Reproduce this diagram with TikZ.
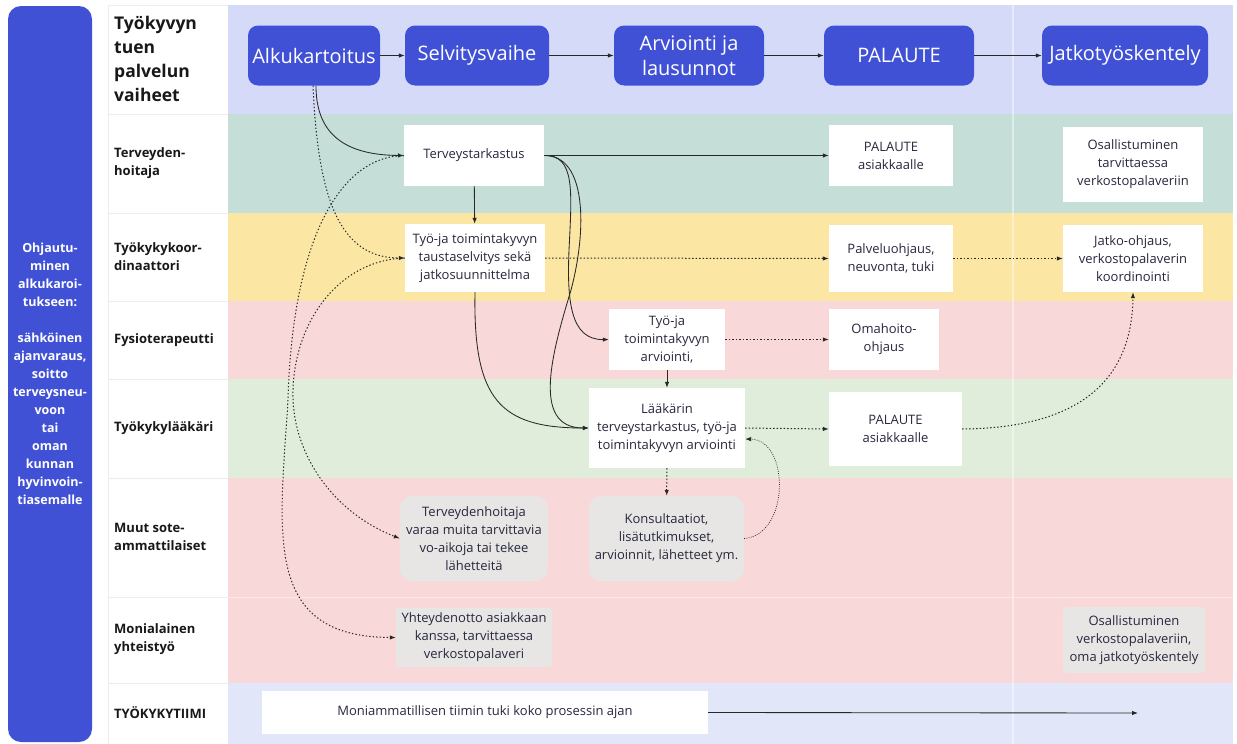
\documentclass[tikz,border=0pt]{standalone}
\usepackage{fontspec}
\setmainfont{Open Sans}
\usetikzlibrary{arrows.meta,calc}
\definecolor{pblue}{RGB}{64,81,214}
\definecolor{hdrbg}{RGB}{214,218,249}
\definecolor{tealbg}{RGB}{197,223,216}
\definecolor{yelbg}{RGB}{251,230,163}
\definecolor{pinkbg}{RGB}{249,216,218}
\definecolor{grnbg}{RGB}{224,237,219}
\definecolor{bluebg}{RGB}{225,231,248}
\definecolor{boxgray}{RGB}{231,230,229}
\definecolor{ink}{RGB}{40,40,62}
\definecolor{laneink}{RGB}{24,24,24}
\definecolor{linec}{RGB}{40,40,40}
\definecolor{sepgray}{RGB}{236,236,236}
\tikzset{
  phase/.style={fill=pblue, rounded corners=10pt, text=white, align=center,
    font=\fontsize{20}{25}\selectfont, minimum height=60pt, inner sep=0pt},
  wbox/.style={fill=white, text=ink, align=center, inner sep=0pt,
    font=\fontsize{13}{18}\selectfont},
  gbox/.style={wbox, fill=boxgray, rounded corners=12pt},
  sbox/.style={wbox, fill=boxgray, rounded corners=3pt},
  lane/.style={anchor=west, align=left, text=laneink, inner sep=0pt,
    font=\bfseries\fontsize{13}{18}\selectfont},
  conn/.style={-{Latex[length=6pt,width=4.5pt]}, line width=0.85pt, draw=linec},
  dconn/.style={conn, line width=1pt, dash pattern=on 1.4pt off 2.1pt},
  fconn/.style={conn, line width=0.7pt, dash pattern=on 0.9pt off 1.3pt},
}
\begin{document}
\begin{tikzpicture}[x=1pt,y=-1pt]
\useasboundingbox (0,0) rectangle (1237,744);
\fill[white] (0,0) rectangle (1237,744);

% side bar
\fill[pblue, rounded corners=13pt] (8,6) rectangle (92,742);
\node[text=white, align=center, inner sep=0pt, font=\bfseries\fontsize{12.5}{18}\selectfont] (sidetext) at (50,374)
  {Ohjautu-\\minen\\alkukaroi-\\tukseen:\\[18pt]sähköinen\\ajanvaraus,\\soitto\\terveysneu-\\voon\\tai\\oman\\kunnan\\hyvinvoin-\\tiasemalle};

% swim lanes
\fill[hdrbg]  (228,5)   rectangle (1233,114);
\fill[tealbg] (228,114) rectangle (1233,213);
\fill[yelbg]  (228,213) rectangle (1233,301);
\fill[pinkbg] (228,301) rectangle (1233,379);
\fill[grnbg]  (228,379) rectangle (1233,478);
\fill[pinkbg] (228,478) rectangle (1233,683);
\fill[bluebg] (228,683) rectangle (1233,744);
\draw[white, opacity=0.45, line width=1pt] (228,597.5) -- (1233,597.5);
\draw[white, opacity=0.45, line width=1.2pt] (1013,5) -- (1013,744);

% lane label column
\draw[sepgray, line width=0.8pt] (108,5) -- (228,5);
\foreach \yy in {114,213,301,379,478,597,683}
  \draw[sepgray, line width=0.8pt] (108,\yy) -- (228,\yy);
\draw[sepgray, line width=0.8pt] (108,5) -- (108,744);

\node[lane, font=\bfseries\fontsize{17.5}{24}\selectfont] (lhead) at (114,59) {Työkyvyn\\tuen\\palvelun\\vaiheet};
\node[lane] (lth)   at (114,163.5) {Terveyden-\\hoitaja};
\node[lane] (lkoor) at (114,257) {Työkykykoor-\\dinaattori};
\node[lane] (lfys)  at (114,340) {Fysioterapeutti};
\node[lane] (llaak) at (114,428) {Työkykylääkäri};
\node[lane] (lmuut) at (114,537) {Muut sote-\\ammattilaiset};
\node[lane] (lmoni) at (114,639) {Monialainen\\yhteistyö};
\node[lane] (ltiimi) at (114,713) {TYÖKYKYTIIMI};

% phases
\node[phase, minimum width=132pt] (alku)  at (314,55.5)  {Alkukartoitus};
\node[phase, minimum width=144pt] (selv)  at (477,55.5)  {Selvitysvaihe};
\node[phase, minimum width=150pt] (arvi)  at (689,55.5)  {Arviointi ja\\lausunnot};
\node[phase, minimum width=150pt] (pal)   at (899,55.5)  {PALAUTE};
\node[phase, minimum width=166pt] (jatko) at (1125,55.5) {Jatkotyöskentely};

% tasks
\node[wbox, minimum width=140pt, minimum height=61pt] (tt)     at (474,155.5) {Terveystarkastus};
\node[wbox, minimum width=140pt, minimum height=68pt] (tausta) at (475,258)   {Työ-ja toimintakyvyn\\taustaselvitys sekä\\jatkosuunnittelma};
\node[wbox, minimum width=124pt, minimum height=61pt] (paltop) at (891,155.5) {PALAUTE\\asiakkaalle};
\node[wbox, minimum width=140pt, minimum height=75pt] (osal1)  at (1133,164.5) {Osallistuminen\\tarvittaessa\\verkostopalaveriin};
\node[wbox, minimum width=124pt, minimum height=67pt] (palv)   at (891,258.5) {Palveluohjaus,\\neuvonta, tuki};
\node[wbox, minimum width=140pt, minimum height=67pt] (jatkoo) at (1133,258.5) {Jatko-ohjaus,\\verkostopalaverin\\koordinointi};
\node[wbox, minimum width=116pt, minimum height=61pt] (arvf)   at (667,339.5) {Työ-ja\\toimintakyvyn\\arviointi,};
\node[wbox, minimum width=110pt, minimum height=61pt] (oma)    at (884,339.5) {Omahoito-\\ohjaus};
\node[wbox, minimum width=156pt, minimum height=80pt] (laak)   at (667,428)   {Lääkärin\\terveystarkastus, työ-ja\\toimintakyvyn arviointi};
\node[wbox, minimum width=133pt, minimum height=74pt] (palbot) at (895.5,429) {PALAUTE\\asiakkaalle};
\node[gbox, minimum width=148pt, minimum height=85pt] (varaa)  at (474,538.5) {Terveydenhoitaja\\varaa muita tarvittavia\\vo-aikoja tai tekee\\lähetteitä};
\node[gbox, minimum width=155pt, minimum height=85pt] (kons)   at (666.5,538.5) {Konsultaatiot,\\lisätutkimukset,\\arvioinnit, lähetteet ym.};
\node[sbox, minimum width=156pt, minimum height=59pt] (yht)    at (474,637.5) {Yhteydenotto asiakkaan\\kanssa, tarvittaessa\\verkostopalaveri};
\node[sbox, minimum width=142pt, minimum height=66pt] (osal2)  at (1134,640)  {Osallistuminen\\verkostopalaveriin,\\oma jatkotyöskentely};
\node[wbox, minimum width=446pt, minimum height=43pt] (moni)   at (485,712.5) {Moniammatillisen tiimin tuki koko prosessin ajan};
\coordinate (tiimiend) at (1138,713);

% phase flow
\draw[conn] (alku) -- (selv);
\draw[conn] (selv) -- (arvi);
\draw[conn] (arvi) -- (pal);
\draw[conn] (pal) -- (jatko);

% start of the service
\draw[conn] ([xshift=2pt]alku.south) .. controls (316,130) and (340,155) .. (tt.west);
\draw[dconn] ([xshift=-1pt]alku.south) .. controls (318,200) and (340,258) .. (tausta.west);

% referrals to other professionals
\draw[dconn] (tt.west) .. controls (335,157) and (292,250) .. (288,400)
  .. controls (280,532) and (261,637) .. (yht.west);
\draw[dconn] (tausta.west) .. controls (340,260) and (295,320) .. (293,390)
  .. controls (291,450) and (330,511) .. (varaa.west);

% health check outcomes
\draw[conn] (tt) -- (tausta);
\draw[conn] (tt.east) -- (paltop.west);
\draw[conn] (tt.east) .. controls (575,155) and (572,190) .. (569,250)
  .. controls (567,300) and (570,340) .. (arvf.west);
\draw[conn] (tt.east) .. controls (587,155) and (587,230) .. (571,290)
  .. controls (553,350) and (530,428) .. (laak.west);
\draw[conn] (tausta.south) .. controls (473,400) and (500,428) .. (laak.west);
\draw[conn] (arvf) -- (laak);

% coordination and feedback
\draw[dconn] (tausta.east) -- (palv.west);
\draw[dconn] (palv.east) -- (jatkoo.west);
\draw[dconn] (arvf.east) -- (oma.west);
\draw[dconn] (laak.east) -- (palbot.west);
\draw[dconn] (laak) -- (kons);
\draw[fconn] (kons.east) .. controls (790,535) and (790,440) .. ([yshift=-11pt]laak.east);
\draw[dconn] (palbot.east) .. controls (1080,428) and (1132,380) .. (jatkoo.south);

% team support
\draw[conn] (moni.east) -- (tiimiend);
\end{tikzpicture}
\end{document}
